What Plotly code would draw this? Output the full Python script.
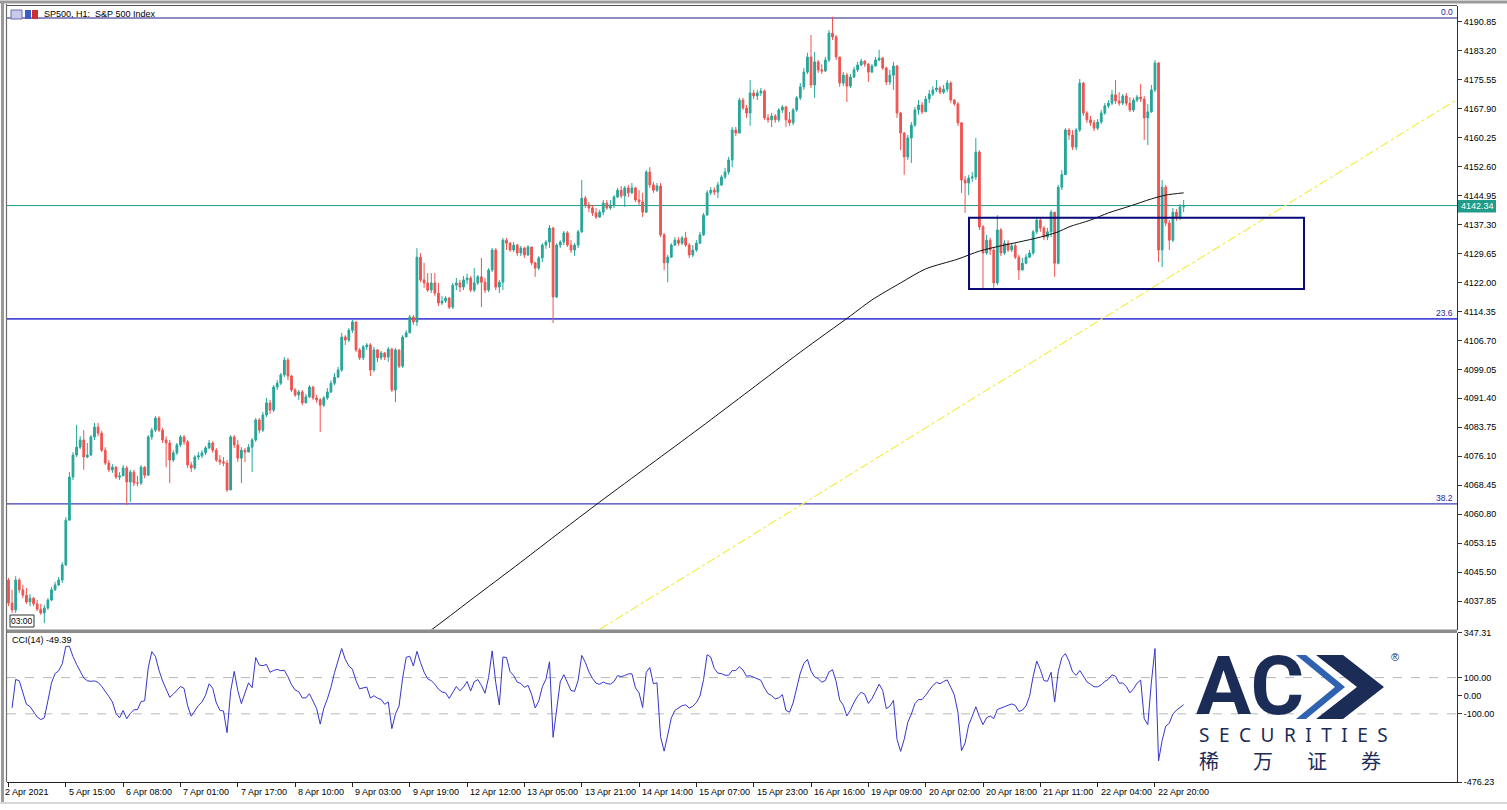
import numpy as np
import plotly.graph_objects as go

# ---------------- data (SP500 H1) ----------------
FIRST_OPEN = 4043.4
CLOSE = [
 4037.3,4035.5,4043.4,4040.8,4039.4,4037.6,4038.6,4037.1,4035.7,4034.7,
 4036.0,4038.1,4040.8,4042.1,4043.4,4047.4,4059.2,4070.6,4076.4,4078.5,
 4080.4,4075.9,4076.4,4081.2,4083.8,4082.2,4077.7,4074.3,4072.5,4073.2,
 4070.6,4070.9,4073.0,4069.3,4071.9,4069.0,4069.0,4073.2,4071.1,4081.2,
 4083.0,4086.2,4083.0,4080.4,4079.6,4075.1,4077.0,4079.1,4081.2,4079.9,
 4073.8,4073.0,4075.9,4076.2,4077.0,4078.3,4079.6,4077.7,4075.1,4074.6,
 4074.3,4067.2,4081.2,4079.1,4075.6,4077.7,4077.2,4078.5,4080.4,4085.7,
 4083.0,4087.0,4090.2,4088.3,4094.4,4095.4,4097.6,4101.5,4097.3,4093.6,
 4092.3,4093.1,4090.2,4091.8,4094.4,4091.5,4091.0,4089.6,4091.5,4093.1,
 4095.4,4097.0,4098.9,4107.6,4106.8,4109.4,4111.6,4104.2,4102.1,4105.0,
 4105.5,4098.9,4104.2,4102.1,4103.4,4102.3,4104.4,4093.6,4104.2,4099.9,
 4107.6,4108.7,4112.9,4111.6,4128.7,4122.7,4121.9,4120.0,4121.9,4119.2,
 4116.6,4117.1,4117.9,4115.5,4121.3,4121.9,4120.8,4122.7,4123.2,4120.0,
 4121.9,4123.5,4122.1,4120.0,4125.3,4130.6,4120.8,4122.1,4133.2,4132.4,
 4130.6,4131.9,4129.8,4131.1,4129.3,4131.4,4127.2,4125.8,4128.5,4131.9,
 4132.7,4136.4,4118.2,4131.9,4132.7,4135.1,4131.9,4130.6,4131.9,4135.4,
 4144.3,4142.5,4141.7,4140.4,4139.3,4140.6,4143.0,4141.7,4142.5,4144.6,
 4146.4,4144.9,4147.0,4145.7,4147.0,4143.8,4143.3,4140.6,4151.2,4147.8,
 4146.4,4147.5,4134.6,4127.2,4128.7,4131.9,4133.2,4132.4,4133.8,4131.9,
 4129.3,4130.6,4132.4,4134.6,4139.8,4145.7,4146.4,4145.9,4147.8,4149.9,
 4151.2,4154.4,4162.3,4161.5,4170.2,4168.1,4166.8,4172.1,4171.3,4172.1,
 4172.6,4165.5,4165.0,4166.0,4165.0,4167.6,4168.4,4165.0,4164.2,4167.6,
 4170.8,4173.7,4177.6,4181.6,4174.2,4180.3,4178.2,4177.9,4180.8,4187.9,
 4186.9,4181.6,4174.7,4176.8,4173.9,4176.3,4178.2,4179.5,4180.5,4179.7,
 4177.6,4179.2,4180.8,4181.3,4178.7,4175.0,4176.8,4179.2,4166.8,4161.5,
 4155.2,4160.2,4163.6,4167.6,4168.9,4167.1,4170.5,4171.8,4172.9,4173.4,
 4172.3,4173.1,4174.7,4170.2,4169.2,4164.2,4149.1,4148.3,4149.6,4149.9,
 4156.5,4136.7,4129.8,4133.2,4130.6,4121.9,4135.9,4129.8,4132.4,4130.6,
 4131.7,4128.7,4125.3,4127.1,4128.7,4129.8,4135.4,4138.5,4136.4,4134.0,
 4135.4,4140.6,4127.1,4147.2,4150.5,4162.3,4161.0,4157.8,4162.3,4174.7,
 4166.8,4165.0,4164.2,4162.8,4164.4,4166.8,4168.7,4169.4,4171.6,4170.0,
 4169.4,4171.3,4169.4,4167.6,4170.2,4171.0,4170.5,4165.5,4167.1,4172.9,
 4180.0,4130.6,4147.2,4137.7,4133.2,4140.6,4139.1,4142.0,4142.34]
HIGH = [
 4043.9,4040.8,4044.4,4043.9,4042.1,4041.3,4039.7,4038.9,4038.1,4037.1,
 4036.8,4038.6,4041.5,4042.9,4044.2,4048.1,4060.0,4071.9,4077.2,4084.4,
 4081.4,4083.0,4079.6,4081.7,4084.9,4084.9,4082.8,4078.5,4075.1,4074.0,
 4073.5,4071.9,4073.8,4073.5,4072.5,4072.5,4070.9,4073.8,4073.5,4081.7,
 4083.6,4086.7,4086.7,4083.6,4081.4,4080.4,4077.7,4079.6,4081.7,4081.7,
 4080.4,4074.6,4076.4,4077.2,4077.7,4078.8,4080.4,4080.1,4078.3,4076.4,
 4075.9,4075.1,4081.7,4081.7,4080.4,4078.5,4078.3,4079.3,4080.9,4086.2,
 4086.2,4087.8,4091.5,4091.0,4094.9,4096.2,4098.1,4102.3,4102.1,4097.6,
 4094.1,4093.6,4093.6,4092.6,4094.9,4094.7,4092.3,4091.5,4092.0,4094.1,
 4096.2,4098.1,4099.7,4108.7,4108.1,4110.0,4112.1,4111.6,4104.7,4105.5,
 4106.0,4106.0,4105.0,4104.4,4103.9,4103.6,4105.0,4104.7,4104.7,4104.2,
 4108.1,4109.4,4113.4,4113.4,4131.1,4129.8,4127.2,4124.5,4124.5,4124.5,
 4121.9,4118.4,4118.4,4118.2,4121.9,4123.2,4122.7,4123.7,4124.3,4123.7,
 4125.8,4124.0,4128.5,4123.2,4125.8,4131.1,4131.1,4122.7,4133.8,4133.8,
 4132.7,4132.7,4132.2,4131.7,4131.4,4131.9,4131.4,4127.5,4129.0,4132.4,
 4133.2,4137.2,4136.7,4132.4,4133.2,4135.6,4135.6,4133.2,4132.4,4135.9,
 4149.1,4144.9,4143.3,4142.5,4141.7,4141.2,4143.8,4143.8,4143.8,4145.1,
 4147.0,4147.5,4147.5,4147.8,4148.3,4147.2,4146.4,4145.7,4151.7,4152.5,
 4148.6,4148.3,4148.3,4135.1,4129.3,4132.4,4134.0,4134.0,4134.3,4135.4,
 4132.4,4131.9,4133.2,4135.4,4140.4,4146.4,4147.2,4147.2,4148.6,4150.4,
 4152.3,4155.2,4163.1,4163.1,4170.8,4170.8,4168.9,4175.5,4172.9,4172.9,
 4173.4,4173.0,4166.5,4166.8,4166.5,4168.1,4168.9,4168.7,4167.1,4168.1,
 4171.3,4174.7,4178.7,4182.7,4187.4,4182.9,4180.8,4179.7,4181.6,4188.7,
 4192.2,4187.4,4181.6,4177.6,4177.4,4177.1,4179.0,4180.3,4181.1,4180.8,
 4180.0,4179.7,4181.6,4183.5,4181.6,4179.0,4178.2,4180.3,4179.5,4167.1,
 4161.8,4161.0,4164.4,4168.4,4170.2,4169.7,4171.3,4172.9,4173.9,4175.5,
 4173.9,4174.2,4175.5,4175.2,4170.5,4169.7,4164.4,4150.2,4150.4,4151.2,
 4160.2,4157.0,4137.2,4134.6,4133.8,4131.4,4139.8,4136.4,4133.2,4133.2,
 4132.4,4132.4,4129.3,4128.5,4129.5,4130.6,4135.9,4139.3,4139.1,4136.9,
 4136.4,4141.2,4140.6,4147.8,4151.7,4162.8,4162.8,4162.3,4162.8,4175.8,
 4175.0,4167.3,4166.0,4165.0,4165.2,4167.6,4169.4,4170.2,4172.9,4175.5,
 4172.3,4171.8,4172.1,4171.0,4170.8,4171.6,4174.5,4171.3,4169.2,4174.2,
 4180.8,4180.3,4149.1,4147.8,4138.5,4141.7,4141.4,4142.8,4143.8]
LOW = [
 4036.5,4034.7,4034.7,4040.0,4038.6,4037.1,4036.5,4036.5,4035.2,4034.2,
 4032.0,4035.5,4037.8,4040.5,4041.8,4042.6,4047.1,4059.2,4069.8,4075.9,
 4078.0,4072.5,4075.6,4076.2,4080.4,4081.4,4077.2,4073.8,4071.9,4071.7,
 4070.1,4069.8,4070.9,4063.2,4064.0,4068.2,4068.2,4068.5,4070.3,4070.9,
 4080.4,4082.5,4082.5,4079.6,4073.2,4069.0,4074.6,4076.4,4078.5,4079.1,
 4073.0,4071.9,4072.5,4075.1,4075.6,4076.4,4078.0,4077.0,4074.6,4073.8,
 4073.5,4066.7,4067.2,4078.3,4074.6,4069.0,4074.6,4077.2,4071.9,4079.9,
 4082.2,4082.5,4086.5,4087.3,4087.8,4093.6,4094.9,4097.0,4096.2,4093.1,
 4091.8,4091.0,4089.6,4091.0,4091.5,4091.0,4090.2,4082.5,4089.1,4091.0,
 4092.8,4094.9,4096.8,4098.4,4105.5,4106.3,4108.7,4103.6,4101.5,4101.5,
 4104.2,4097.3,4098.4,4101.0,4101.5,4101.5,4101.0,4093.1,4090.4,4099.4,
 4099.4,4107.6,4108.7,4110.8,4110.5,4122.1,4120.6,4119.5,4119.2,4118.4,
 4115.8,4116.1,4116.6,4115.0,4115.0,4120.0,4119.5,4120.0,4121.6,4119.5,
 4119.5,4121.3,4115.5,4119.2,4119.5,4124.8,4120.0,4119.2,4120.0,4130.6,
 4130.1,4130.1,4129.0,4129.0,4128.5,4129.0,4126.6,4123.5,4125.3,4127.4,
 4130.9,4131.1,4111.3,4117.9,4131.1,4131.9,4131.4,4129.8,4129.0,4131.1,
 4135.1,4141.7,4140.6,4139.6,4138.8,4139.1,4139.8,4141.2,4141.2,4141.7,
 4144.3,4144.3,4142.0,4144.6,4145.4,4143.3,4142.5,4139.3,4140.4,4147.0,
 4145.7,4145.9,4134.0,4125.3,4122.1,4128.5,4131.7,4131.7,4131.9,4131.4,
 4128.5,4128.7,4130.1,4132.2,4134.3,4139.8,4145.1,4145.1,4144.3,4147.5,
 4149.3,4150.5,4152.5,4160.7,4161.5,4167.6,4165.5,4163.4,4170.5,4170.2,
 4171.3,4165.0,4164.2,4163.1,4164.2,4164.4,4166.8,4163.1,4163.4,4163.6,
 4167.1,4170.2,4172.9,4177.1,4173.4,4170.8,4177.4,4177.1,4177.6,4180.3,
 4186.1,4180.8,4173.7,4173.9,4169.7,4173.4,4176.0,4177.6,4179.2,4179.0,
 4175.0,4177.4,4179.2,4180.5,4178.2,4174.2,4174.2,4172.9,4165.5,4157.0,
 4150.5,4154.4,4153.6,4163.1,4166.3,4166.5,4167.1,4169.4,4171.3,4172.3,
 4171.8,4171.8,4172.3,4169.4,4168.7,4163.4,4145.7,4140.4,4145.1,4148.6,
 4149.1,4135.9,4120.0,4129.3,4129.3,4120.6,4121.3,4129.0,4129.3,4130.1,
 4130.1,4128.2,4122.7,4125.3,4126.8,4128.5,4129.3,4134.8,4135.4,4133.2,
 4133.2,4134.0,4123.5,4126.8,4146.4,4150.4,4159.7,4157.0,4157.0,4161.8,
 4166.0,4164.2,4163.4,4162.0,4162.3,4163.9,4166.3,4168.1,4168.9,4169.2,
 4168.7,4168.9,4168.7,4167.1,4167.1,4169.7,4169.7,4159.7,4158.3,4166.8,
 4172.3,4127.4,4126.1,4136.9,4130.6,4132.7,4138.3,4138.5,4140.6]

# long moving average (black line), sampled at bar numbers
MA_BARS = [110, 118, 129, 143, 154, 165, 179, 193, 207, 221, 235, 241, 249, 256, 265,
           271, 277, 282, 288, 293, 296, 302, 307, 313, 319, 323, 328]
MA_VALUES = [4025.0, 4030.2, 4038.1, 4048.1, 4056.1, 4064.0, 4073.8, 4083.6, 4093.6, 4103.6,
             4113.2, 4117.4, 4121.9, 4125.6, 4128.2, 4130.3, 4131.7, 4132.7, 4134.0, 4135.4,
             4136.7, 4138.5, 4140.4, 4142.2, 4144.1, 4145.1, 4145.7]

# Fibonacci levels and other drawn objects (values)
FIB_LEVELS = [4191.9, 4112.4, 4063.5]
FIB_LABELS = ["0.0", "23.6", "38.2"]
LAST_PRICE = 4142.34
BOX_BARS = [268.1, 361.6]
BOX_PRICES = [4120.3, 4139.1]
TREND_BARS = [165.1, 404.0]
TREND_PRICES = [4030.4, 4170.2]

PRICE_TICKS = [4190.85, 4183.20, 4175.55, 4167.90, 4160.25, 4152.60, 4144.95, 4137.30,
               4129.65, 4122.00, 4114.35, 4106.70, 4099.05, 4091.40, 4083.75, 4076.10,
               4068.45, 4060.80, 4053.15, 4045.50, 4037.85]
CCI_TICKS = [347.31, 100.0, 0.0, -100.0, -476.23]
TIME_LABELS = ["2 Apr 2021", "5 Apr 15:00", "6 Apr 08:00", "7 Apr 01:00", "7 Apr 17:00",
               "8 Apr 10:00", "9 Apr 03:00", "9 Apr 19:00", "12 Apr 12:00", "13 Apr 05:00",
               "13 Apr 21:00", "14 Apr 14:00", "15 Apr 07:00", "15 Apr 23:00", "16 Apr 16:00",
               "19 Apr 09:00", "20 Apr 02:00", "20 Apr 18:00", "21 Apr 11:00", "22 Apr 04:00",
               "22 Apr 20:00"]
TIME_LABEL_STEP = 16

n = len(CLOSE)
assert len(HIGH) == n and len(LOW) == n, (len(CLOSE), len(HIGH), len(LOW))
OPEN = [FIRST_OPEN] + CLOSE[:-1]
bars = list(range(n))

# CCI(14) from the candles
C = np.array(CLOSE); H = np.array(HIGH); L = np.array(LOW)
tp = (H + L + C) / 3.0
cci = [None]
for i in range(1, n):
    w = tp[max(0, i - 13):i + 1]
    m = w.mean()
    md = np.abs(w - m).mean()
    cci.append(float((tp[i] - m) / (0.015 * md)) if md > 0 else 0.0)

# ---------------- layout helpers (pixel -> paper) ----------------
PL, PR, PT, PB = 7, 1457, 6, 782
def px(x):
    return (x - PL) / (PR - PL)
def py(y):
    return (PB - y) / (PB - PT)

FONT = "Liberation Sans, Arial, sans-serif"
UP, DOWN = "#26a69a", "#ef5350"

fig = go.Figure()
fig.add_trace(go.Candlestick(
    x=bars, open=OPEN, high=HIGH, low=LOW, close=CLOSE,
    increasing=dict(line=dict(color=UP, width=1), fillcolor=UP),
    decreasing=dict(line=dict(color=DOWN, width=1), fillcolor=DOWN),
    whiskerwidth=0, xaxis="x", yaxis="y", showlegend=False, hoverinfo="skip"))
fig.add_trace(go.Scatter(x=MA_BARS, y=MA_VALUES, mode="lines",
                         line=dict(color="#111111", width=1, shape="spline", smoothing=0.8),
                         xaxis="x", yaxis="y", showlegend=False, hoverinfo="skip"))
fig.add_trace(go.Scatter(x=TREND_BARS, y=TREND_PRICES, mode="lines",
                         line=dict(color="#f2ee4a", width=1.2, dash="dashdot"),
                         xaxis="x", yaxis="y", showlegend=False, hoverinfo="skip"))
fig.add_trace(go.Scatter(x=bars, y=cci, mode="lines",
                         line=dict(color="#3535cc", width=1), xaxis="x", yaxis="y2",
                         showlegend=False, hoverinfo="skip"))

shapes = []
fib_colors = ["#1c1c8a", "#4a4ad8", "#3c3cc0"]
fib_widths = [1.2, 1.6, 1.2]
for lvl, col, wd in zip(FIB_LEVELS, fib_colors, fib_widths):
    shapes.append(dict(type="line", xref="paper", yref="y", x0=0, x1=1, y0=lvl, y1=lvl,
                       line=dict(color=col, width=wd), layer="below"))
shapes.append(dict(type="line", xref="paper", yref="y", x0=0, x1=1, y0=LAST_PRICE, y1=LAST_PRICE,
                   line=dict(color="#1f9d8a", width=1), layer="below"))
shapes.append(dict(type="rect", xref="x", yref="y", x0=BOX_BARS[0], x1=BOX_BARS[1],
                   y0=BOX_PRICES[0], y1=BOX_PRICES[1], line=dict(color="#0a0a78", width=2)))
for lv in (100, -100):
    shapes.append(dict(type="line", xref="paper", yref="y2", x0=0, x1=1, y0=lv, y1=lv,
                       line=dict(color="#b8b8b8", width=1, dash="dash"), layer="below"))
# frames
shapes.append(dict(type="rect", xref="paper", yref="paper", x0=px(PL), x1=px(PR), y0=py(629.5), y1=py(633),
                   fillcolor="#8c8c8c", line=dict(width=0)))
shapes.append(dict(type="line", xref="paper", yref="paper", x0=px(6.5), x1=px(6.5), y0=py(PB), y1=py(4),
                   line=dict(color="#707070", width=1.2)))
shapes.append(dict(type="line", xref="paper", yref="paper", x0=px(2.5), x1=px(2.5), y0=py(803), y1=py(2),
                   line=dict(color="#9a9a9a", width=3)))
shapes.append(dict(type="line", xref="paper", yref="paper", x0=px(0), x1=px(1507), y0=py(2), y1=py(2),
                   line=dict(color="#9a9a9a", width=3)))
shapes.append(dict(type="line", xref="paper", yref="paper", x0=px(0), x1=px(1507), y0=py(803), y1=py(803),
                   line=dict(color="#d8d8d8", width=2)))
shapes.append(dict(type="line", xref="paper", yref="paper", x0=px(PL), x1=px(PR), y0=py(5.5), y1=py(5.5),
                   line=dict(color="#555555", width=1)))
# title icons
shapes.append(dict(type="rect", xref="paper", yref="paper", x0=px(11), x1=px(22), y0=py(19), y1=py(10),
                   fillcolor="#c9c9ee", line=dict(color="#6a6aa8", width=1)))
shapes.append(dict(type="rect", xref="paper", yref="paper", x0=px(25), x1=px(31), y0=py(19), y1=py(10),
                   fillcolor="#3a5ccc", line=dict(width=0)))
shapes.append(dict(type="rect", xref="paper", yref="paper", x0=px(32), x1=px(38), y0=py(19), y1=py(10),
                   fillcolor="#d03030", line=dict(width=0)))
# last price tag
shapes.append(dict(type="rect", xref="paper", yref="paper", x0=px(1458), x1=px(1496), y0=py(212.5), y1=py(200),
                   fillcolor="#1f9d8a", line=dict(width=0)))
# 03:00 tag
shapes.append(dict(type="rect", xref="paper", yref="paper", x0=px(10), x1=px(34), y0=py(627), y1=py(615),
                   fillcolor="white", line=dict(color="#333333", width=1)))

# logo chevrons (drawn as paths)
def poly(points):
    return "M " + " L ".join(f"{px(a):.5f},{py(b):.5f}" for a, b in points) + " Z"
NAVY = "#1b2c57"
shapes.append(dict(type="path", xref="paper", yref="paper",
                   path=poly([(1296, 655), (1306, 655), (1345, 687), (1306, 719), (1296, 719), (1335, 687)]),
                   fillcolor="#2f63b0", line=dict(width=0)))
shapes.append(dict(type="path", xref="paper", yref="paper",
                   path=poly([(1316, 655), (1343, 655), (1384, 687), (1343, 719), (1316, 719), (1357, 687)]),
                   fillcolor=NAVY, line=dict(width=0)))

ann = []
def text(x, y, s, size=9, color="#000000", xanchor="left", yanchor="middle", family=FONT, **kw):
    ann.append(dict(xref="paper", yref="paper", x=px(x), y=py(y), text=s, showarrow=False,
                    xanchor=xanchor, yanchor=yanchor, font=dict(size=size, color=color, family=family), **kw))

text(42, 14.5, "SP500, H1:  S&amp;P 500 Index", size=9)
fib_label_y = [12.5, 313, 498]
for lab, yy in zip(FIB_LABELS, fib_label_y):
    text(1455, yy, lab, size=8.5, color="#2323a0", xanchor="right")
text(1477, 206.5, "4142.34", size=9, color="#ffffff", xanchor="center")
text(22, 621, "03:00", size=8.5, xanchor="center")
text(10, 639.5, "CCI(14) -49.39", size=9)

# time axis labels (left-aligned after tick)
for k, lab in enumerate(TIME_LABELS):
    ann.append(dict(xref="x", yref="paper", x=k * TIME_LABEL_STEP, y=py(792), text=lab, showarrow=False,
                    xanchor="left", yanchor="middle", xshift=1 if k else -6,
                    font=dict(size=9, color="#000000", family=FONT)))

# ACY Securities logo
text(1194, 686, "<b>AC</b>", size=82, color=NAVY, family="Roboto, Arial, sans-serif")
text(1389, 657, "®", size=11, color=NAVY)
text(1197, 735, "\u2002".join("SECURITIES"), size=19, color=NAVY, family="Noto Sans, sans-serif")
text(1197, 760, "\u3000\u2002\u2009".join("稀万证券"), size=20, color=NAVY,
     family="Noto Sans CJK SC, sans-serif")

fig.update_layout(
    width=1507, height=810,
    margin=dict(l=PL, r=1507 - PR, t=PT, b=810 - PB, autoexpand=False),
    paper_bgcolor="white", plot_bgcolor="white",
    showlegend=False, hovermode=False,
    font=dict(family=FONT, size=9, color="#000000"),
    xaxis=dict(domain=[0, 1], anchor="y2", range=[-0.42, 404.3], showgrid=False, zeroline=False,
               showline=True, linecolor="#222222", linewidth=1, automargin=False,
               tickmode="array", tickvals=[k * TIME_LABEL_STEP for k in range(len(TIME_LABELS))],
               ticks="outside", ticklen=4, tickcolor="#222222", showticklabels=False,
               rangeslider=dict(visible=False), fixedrange=True),
    yaxis=dict(domain=[py(629.5), 1], anchor="x", side="right", range=[4030.32, 4195.07],
               showgrid=False, zeroline=False, showline=True, linecolor="#333333", linewidth=1,
               automargin=False,
               tickmode="array", tickvals=PRICE_TICKS, ticktext=[f"{v:.2f}" for v in PRICE_TICKS],
               ticks="outside", ticklen=4, tickcolor="#333333", tickfont=dict(size=9, family=FONT)),
    yaxis2=dict(domain=[0, py(632.8)], anchor="x", side="right", range=[-476.23, 347.31],
                showgrid=False, zeroline=False, showline=True, linecolor="#333333", linewidth=1,
                automargin=False,
                tickmode="array", tickvals=CCI_TICKS, ticktext=[f"{v:.2f}" for v in CCI_TICKS],
                ticks="outside", ticklen=4, tickcolor="#333333", tickfont=dict(size=9, family=FONT)),
    shapes=shapes, annotations=ann,
)

fig.write_html("out.html", config={"displayModeBar": False},
               post_script="document.body.style.margin='0px';document.body.style.padding='0px';"
                           "document.documentElement.style.overflow='hidden';")
